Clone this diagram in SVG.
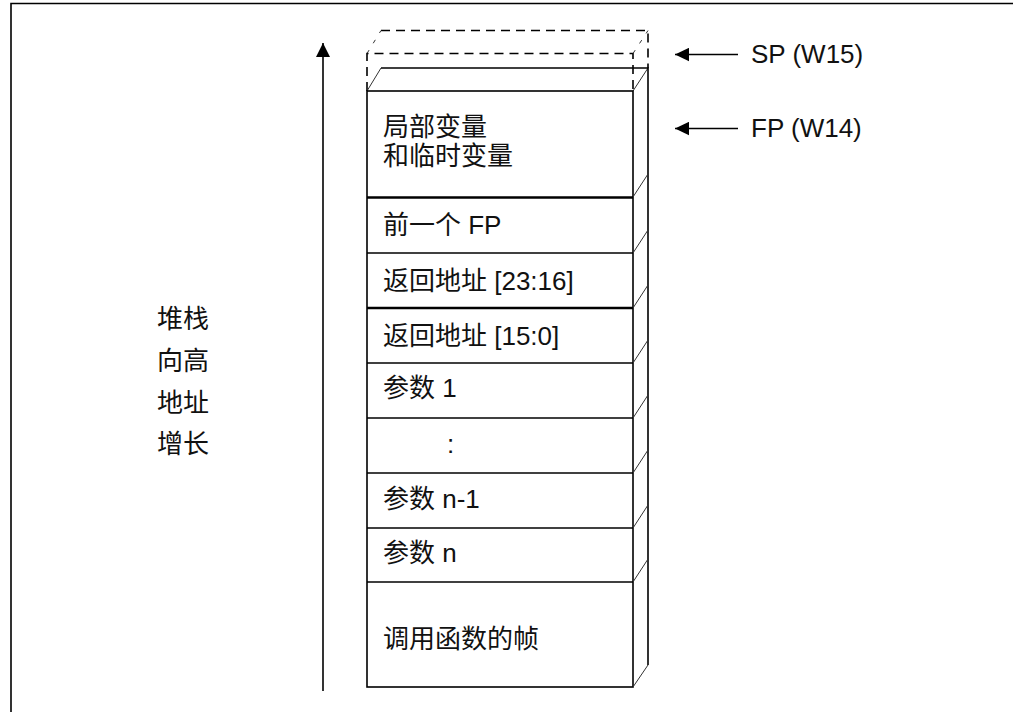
<svg xmlns="http://www.w3.org/2000/svg" width="1013" height="712" viewBox="0 0 1013 712">
<style>
.t{font-family:"Liberation Sans","Noto Sans CJK SC",sans-serif;font-size:26px;fill:#111}
.ln{stroke:#000;stroke-width:1.6;fill:none}
.thk{stroke:#000;stroke-width:2.6;fill:none}
.dg{stroke:#333;stroke-width:1;fill:none}
.ds{stroke:#000;stroke-width:1.6;fill:none;stroke-dasharray:9 6}
.dsd{stroke:#333;stroke-width:1;fill:none;stroke-dasharray:4 8}
</style>
<defs>
<marker id="ah" markerWidth="14" markerHeight="14" refX="14" refY="7" orient="auto" markerUnits="userSpaceOnUse">
<path d="M0,0 L14,7 L0,14 Z" fill="#000"/>
</marker>
<marker id="ahs" markerWidth="14" markerHeight="14" refX="14" refY="7" orient="auto" markerUnits="userSpaceOnUse">
<path d="M0,0.3 L14,7 L0,13.7 Z" fill="#000"/>
</marker>
</defs>
<rect width="1013" height="712" fill="#fff"/>
<g id="frame">
<path class="ln" d="M11,712 V3.5 H1013" stroke-width="2"/>
</g>
<g id="sp-slot">
<path class="ds" d="M367,91 V53.5 H633 V91"/>
<path class="ds" d="M381,30.5 H648 V68"/>
<path class="dsd" d="M367,53.5 L381,30.5 M633,53.5 L648,30.5"/>
</g>
<g id="stack">
<path class="dg" d="M367,91 L381,68 M633,91 L648,68"/>
<path class="ln" d="M381,68 H648 V665"/>
<rect class="ln" x="367" y="91" width="266" height="596"/>
<path class="dg" d="M633,197 L648,174 M633,253 L648,230 M633,308 L648,285 M633,363 L648,340 M633,418 L648,395 M633,473 L648,450 M633,528 L648,505 M633,582 L648,559 M633,687 L648,665"/>
</g>
<g id="row-locals"><text class="t" x="383" y="136">局部变量</text><text class="t" x="383" y="164.5">和临时变量</text></g>
<g id="row-prevfp"><path class="thk" d="M367,197.5 H633"/><text class="t" x="383" y="234">前一个 FP</text></g>
<g id="row-ret-hi"><path class="ln" d="M367,253 H633"/><text class="t" x="383" y="290">返回地址 [23:16]</text></g>
<g id="row-ret-lo"><path class="thk" d="M367,308 H633"/><text class="t" x="383" y="345">返回地址 [15:0]</text></g>
<g id="row-arg1"><path class="ln" d="M367,363 H633"/><text class="t" x="383" y="397">参数 1</text></g>
<g id="row-dots"><path class="ln" d="M367,418 H633"/><text class="t" x="447" y="453">:</text></g>
<g id="row-argn1"><path class="ln" d="M367,473 H633"/><text class="t" x="383" y="508">参数 n-1</text></g>
<g id="row-argn"><path class="ln" d="M367,528 H633"/><text class="t" x="383" y="562">参数 n</text></g>
<g id="row-caller"><path class="ln" d="M367,582 H633"/><text class="t" x="383" y="648">调用函数的帧</text></g>
<g id="growth-label">
<text class="t" x="157" y="328">堆栈</text>
<text class="t" x="157" y="370">向高</text>
<text class="t" x="157" y="412">地址</text>
<text class="t" x="157" y="453">增长</text>
</g>
<g id="sp-label"><text class="t" x="751" y="63">SP (W15)</text></g>
<g id="fp-label"><text class="t" x="751" y="137">FP (W14)</text></g>
<g id="connectors">
<line class="ln" x1="323" y1="691" x2="323" y2="43" marker-end="url(#ah)"/>
<line class="ln" x1="738" y1="54.5" x2="675" y2="54.5" marker-end="url(#ahs)"/>
<line class="ln" x1="738" y1="128.5" x2="675" y2="128.5" marker-end="url(#ahs)"/>
</g>
</svg>
